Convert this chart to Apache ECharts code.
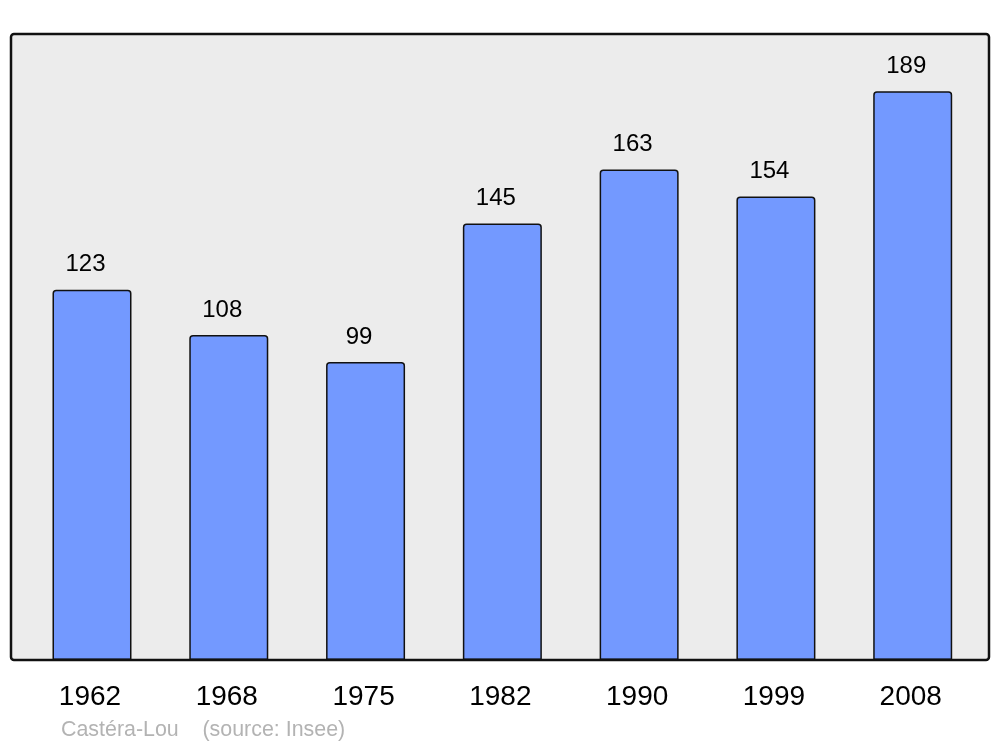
<!DOCTYPE html>
<html><head><meta charset="utf-8">
<script src="https://cdn.jsdelivr.net/npm/echarts@6/dist/echarts.min.js"></script>
<style>html,body{margin:0;padding:0;background:#fff}#c{width:1000px;height:747px}</style>
</head><body><div id="c"></div>
<script>
const years = ['1962','1968','1975','1982','1990','1999','2008'];
const population = [123,108,99,145,163,154,189];
const footerText = 'Castéra-Lou    (source: Insee)';

const chart = echarts.init(document.getElementById('c'), null, {renderer:'canvas'});
chart.setOption({
  animation:false,
  backgroundColor:'#ffffff',
  textStyle:{fontFamily:'Liberation Sans, Arial, sans-serif'},
  graphic:[
    {type:'rect', z:-10, shape:{x:11,y:34,width:978,height:626,r:3}, style:{fill:'#ececec',stroke:null}},
    {type:'rect', z:100, shape:{x:11,y:34,width:978,height:626,r:3}, style:{fill:null,stroke:'#111',lineWidth:2.5}},
    {type:'text', left:61, top:720, style:{text:footerText, fill:'#b3b3b3', fontSize:21.4, fontFamily:'Liberation Sans, Arial, sans-serif'}}
  ],
  grid:{left:23.6, right:18.9, top:34, bottom:87, containLabel:false},
  xAxis:{
    type:'category', data:years, boundaryGap:true,
    axisLine:{show:false}, axisTick:{show:false},
    axisLabel:{fontSize:28, color:'#000', margin:23, padding:[0,4,0,0], fontFamily:'Liberation Sans, Arial, sans-serif'}
  },
  yAxis:{type:'value', min:0, max:208, show:false, splitLine:{show:false}},
  series:[{
    type:'bar', data:population, barWidth:79,
    itemStyle:{color:'#7399ff', borderColor:'#111', borderWidth:1.5, borderRadius:[3,3,0,0]},
    label:{show:true, position:'top', distance:13, offset:[-6.5,0], fontSize:24, color:'#000', fontFamily:'Liberation Sans, Arial, sans-serif'}
  }]
});
</script></body></html>
